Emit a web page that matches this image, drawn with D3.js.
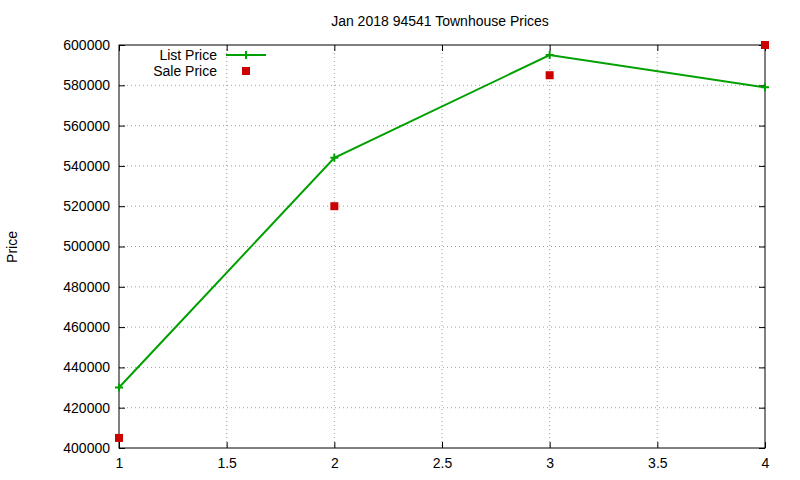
<!DOCTYPE html>
<html><head><meta charset="utf-8">
<script src="https://cdn.jsdelivr.net/npm/d3@7"></script>
<style>body{margin:0;background:#fff}svg{font-family:"Liberation Sans",Arial,sans-serif}</style>
</head><body><svg id="c" width="800" height="480"></svg>
<script>
const xs=[1,2,3,4];
const listPrice=[430000,544000,595000,579000];
const salePrice=[405000,520000,585000,600000];
const xTicks=[1,1.5,2,2.5,3,3.5,4];
const yTicks=[400000,420000,440000,460000,480000,500000,520000,540000,560000,580000,600000];
const svg=d3.select("#c");
const L=119,R=765,T=45,B=448;
const x=d3.scaleLinear().domain([1,4]).range([L,R]);
const y=d3.scaleLinear().domain([400000,600000]).range([B,T]);
const g=svg.append("g");
// grid
g.selectAll(".gx").data(xTicks.slice(1,-1)).join("line").attr("x1",d=>x(d)).attr("x2",d=>x(d)).attr("y1",T).attr("y2",B).attr("stroke","#a0a0a0").attr("stroke-dasharray","1,3");
g.selectAll(".gy").data(yTicks.slice(1,-1)).join("line").attr("y1",d=>y(d)).attr("y2",d=>y(d)).attr("x1",L).attr("x2",R).attr("stroke","#a0a0a0").attr("stroke-dasharray","1,3");
// axes
const ax=svg.append("g").attr("transform",`translate(0,${B})`).call(d3.axisBottom(x).tickValues(xTicks).tickSize(-6).tickPadding(10).tickFormat(d3.format("")));
const axT=svg.append("g").attr("transform",`translate(0,${T})`).call(d3.axisTop(x).tickValues(xTicks).tickSize(-6).tickFormat(""));
const ay=svg.append("g").attr("transform",`translate(${L},0)`).call(d3.axisLeft(y).tickValues(yTicks).tickSize(-6).tickPadding(9).tickFormat(d3.format("d")));
const ayR=svg.append("g").attr("transform",`translate(${R},0)`).call(d3.axisRight(y).tickValues(yTicks).tickSize(-6).tickFormat(""));
[ax,axT,ay,ayR].forEach(a=>{a.select(".domain").remove();a.selectAll("text").attr("font-size",14).attr("fill","#000").style("font-family","Liberation Sans, Arial");a.selectAll("line").attr("stroke","#000");});
svg.append("rect").attr("x",L).attr("y",T).attr("width",R-L).attr("height",B-T).attr("fill","none").attr("stroke","#000");
// list line
const green="#00a000",red="#cc0000";
svg.append("path").datum(xs.map((d,i)=>[d,listPrice[i]])).attr("d",d3.line().x(d=>x(d[0])).y(d=>y(d[1]))).attr("fill","none").attr("stroke",green).attr("stroke-width",2);
const plus=(sel,cx,cy)=>{sel.append("path").attr("d",`M${cx-4},${cy}H${cx+4}M${cx},${cy-4}V${cy+4}`).attr("stroke",green).attr("stroke-width",2);};
xs.forEach((d,i)=>plus(svg,x(d),y(listPrice[i])));
svg.selectAll(".sq").data(xs).join("rect").attr("x",d=>x(d)-4).attr("y",(d,i)=>y(salePrice[i])-4).attr("width",8).attr("height",8).attr("fill",red);
// legend
svg.append("text").attr("x",217).attr("y",60).attr("text-anchor","end").attr("font-size",14).text("List Price");
svg.append("line").attr("x1",226).attr("x2",266).attr("y1",55).attr("y2",55).attr("stroke",green).attr("stroke-width",2);
plus(svg,246,55);
svg.append("text").attr("x",217).attr("y",76).attr("text-anchor","end").attr("font-size",14).text("Sale Price");
svg.append("rect").attr("x",242).attr("y",67).attr("width",8).attr("height",8).attr("fill",red);
// title & label
svg.append("text").attr("x",440).attr("y",26).attr("text-anchor","middle").attr("font-size",14).text("Jan 2018 94541 Townhouse Prices");
svg.append("text").attr("transform","translate(17,247) rotate(-90)").attr("text-anchor","middle").attr("font-size",14).text("Price");
</script></body></html>
